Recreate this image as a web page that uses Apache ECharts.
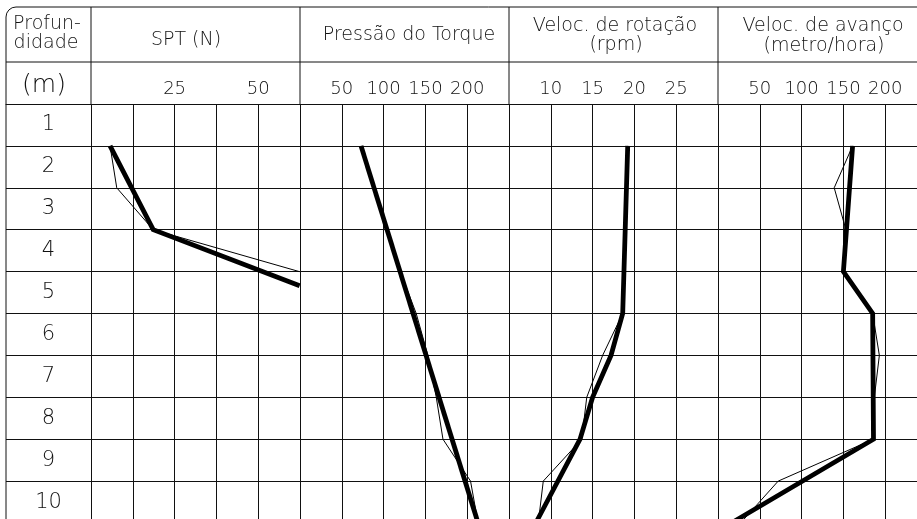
<!DOCTYPE html>
<html>
<head>
<meta charset="utf-8">
<script src="https://cdn.jsdelivr.net/npm/echarts@6/dist/echarts.min.js"></script>
<style>
  html, body { margin: 0; padding: 0; background: #fff; overflow: hidden; }
  /* the drawing runs past the right and bottom edges of the sheet */
  #chart { width: 960px; height: 560px; }
</style>
</head>
<body>
<div id="chart"></div>
<script>
// Depth rows (m)
const depthLabels = ['1', '2', '3', '4', '5', '6', '7', '8', '9', '10'];

// Each point is [value, depth in m]; thin = individual reading, thick = trend
const sptThin = [[5.7, 1], [7.7, 2], [18.6, 3], [62.3, 4]];
const sptThick = [[5.7, 1], [18.6, 3], [62.4, 4.34]];

const torqueThin = [[73, 1], [88, 2], [105, 3], [120, 4], [139, 5], [153, 6], [163, 7], [171, 8], [204, 9], [213, 10]];
const torqueThick = [[73, 1], [213, 10]];

const rotThin = [[19.2, 1], [19.1, 2], [19.0, 3], [18.8, 4], [18.6, 5], [16.2, 6], [14.3, 7], [13.7, 8], [9.1, 9], [8.5, 10]];
const rotThick = [[19.2, 1], [18.6, 5], [17.2, 6], [15.0, 7], [13.5, 8], [8.2, 10]];

const avancoThin = [[161, 1], [139, 2], [153, 3], [150, 4], [185, 5], [193, 6], [187, 7], [186, 8], [72, 9], [27, 10]];
const avancoThick = [[161, 1], [150, 4], [185, 5], [186, 8], [16, 10]];

// Tick labels shown above each column block
const sptTicks = [25, 50];
const torqueTicks = [50, 100, 150, 200];
const rotTicks = [10, 15, 20, 25];
const avancoTicks = [50, 100, 150, 200];

// Layout
const FONT = '"DejaVu Sans", "Liberation Sans", sans-serif';
const INK = '#111';
const TOP = 104, ROW_H = 41.9, ROWS = 10;
const FRAME_L = 6, PANEL_L = 91, PANEL_W = 209;
const HEAD_TOP = 7, HEAD_MID = 62;

const panels = [
  { min: 0, max: 62.5, interval: 12.5, ticks: sptTicks, thin: sptThin, thick: sptThick },
  { min: 0, max: 250, interval: 50, ticks: torqueTicks, thin: torqueThin, thick: torqueThick },
  { min: 5, max: 30, interval: 5, ticks: rotTicks, thin: rotThin, thick: rotThick },
  { min: 0, max: 250, interval: 50, ticks: avancoTicks, thin: avancoThin, thick: avancoThick }
];

const gridLine = { show: true, lineStyle: { color: INK, width: 1 } };

const grids = [{ left: FRAME_L, top: TOP, width: PANEL_L - FRAME_L, height: ROW_H * ROWS }];
const xAxes = [{
  gridIndex: 0, type: 'value', position: 'top', min: 0, max: 1,
  axisLine: gridLine, axisTick: { show: false }, axisLabel: { show: false }, splitLine: { show: false }
}];
const yAxes = [{
  gridIndex: 0, type: 'category', data: depthLabels, inverse: true, boundaryGap: true,
  axisLine: { show: false }, axisTick: { show: false },
  splitLine: gridLine,
  axisLabel: {
    inside: true, margin: 42.5, align: 'center', verticalAlign: 'middle',
    fontFamily: FONT, fontWeight: 200, fontSize: 21, color: INK
  }
}];
const series = [];

panels.forEach((p, i) => {
  const gi = i + 1;
  grids.push({ left: PANEL_L + PANEL_W * i, top: TOP, width: PANEL_W, height: ROW_H * ROWS });
  xAxes.push({
    gridIndex: gi, type: 'value', position: 'top', min: p.min, max: p.max, interval: p.interval,
    axisLine: gridLine, axisTick: { show: false }, splitLine: gridLine,
    axisLabel: {
      margin: 15, verticalAlign: 'middle', fontFamily: FONT, fontWeight: 200, fontSize: 18, color: INK,
      formatter: v => (p.ticks.indexOf(v) >= 0 ? String(v) : '')
    }
  });
  yAxes.push({
    gridIndex: gi, type: 'value', min: 0, max: ROWS, interval: 1, inverse: true,
    axisLine: { show: false }, axisTick: { show: false }, axisLabel: { show: false },
    splitLine: gridLine
  });
  series.push({
    type: 'line', xAxisIndex: gi, yAxisIndex: gi, data: p.thin, symbol: 'none',
    lineStyle: { color: '#000', width: 1 }, silent: true, animation: false, clip: true
  });
  series.push({
    type: 'line', xAxisIndex: gi, yAxisIndex: gi, data: p.thick, symbol: 'none',
    lineStyle: { color: '#000', width: 4.8, join: 'miter' }, silent: true, animation: false, clip: true
  });
});

function txt(text, x, y, size) {
  return {
    type: 'text', x: x, y: y, silent: true,
    style: { text: text, textAlign: 'center', textVerticalAlign: 'middle',
             fontFamily: FONT, fontWeight: 200, fontSize: size || 19, fill: INK }
  };
}
function ln(x1, y1, x2, y2) {
  return { type: 'line', silent: true, shape: { x1: x1, y1: y1, x2: x2, y2: y2 },
           style: { stroke: INK, lineWidth: 1 } };
}

const graphics = [
  { type: 'rect', silent: true,
    shape: { x: FRAME_L, y: HEAD_TOP, width: 1000, height: 600, r: [10, 0, 0, 0] },
    style: { fill: 'none', stroke: INK, lineWidth: 1 } },
  ln(FRAME_L, HEAD_MID, 960, HEAD_MID)
];
for (let i = 0; i < 4; i++) {
  const x = PANEL_L + PANEL_W * i;
  graphics.push(ln(x, HEAD_TOP, x, TOP));
}
graphics.push(
  txt('Profun-', 47, 24.5),
  txt('didade', 46, 43),
  txt('(m)', 44, 85, 25),
  txt('SPT (N)', 186, 40),
  txt('Pressão do Torque', 409, 35),
  txt('Veloc. de rotação', 615, 26),
  txt('(rpm)', 616, 45),
  txt('Veloc. de avanço', 823, 26),
  txt('(metro/hora)', 824, 46)
);

const chart = echarts.init(document.getElementById('chart'), null, { renderer: 'canvas' });
chart.setOption({
  animation: false,
  backgroundColor: '#fff',
  grid: grids,
  xAxis: xAxes,
  yAxis: yAxes,
  series: series,
  graphic: { elements: graphics }
});
</script>
</body>
</html>
